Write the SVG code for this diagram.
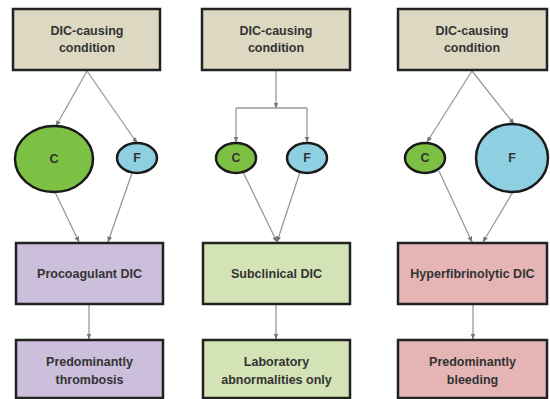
<svg xmlns="http://www.w3.org/2000/svg" width="550" height="399" viewBox="0 0 550 399">
  <defs>
    <marker id="arrow" viewBox="0 0 10 10" refX="9" refY="5" markerWidth="6" markerHeight="6" orient="auto-start-reverse" markerUnits="userSpaceOnUse">
      <path d="M0,1 L10,5 L0,9 z" fill="#777"/>
    </marker>
  </defs>
  <style>
    .box { stroke: #222; stroke-width: 2.5; }
    .cause { fill: #DDD8C2; }
    .pro { fill: #CBBFDB; }
    .sub { fill: #D4E3B5; }
    .hyp { fill: #E5B5B5; }
    .c { fill: #7CC143; stroke: #1a1a1a; stroke-width: 2.5; }
    .f { fill: #8ECFE2; stroke: #1a1a1a; stroke-width: 2.5; }
    .lbl { font-family: "Liberation Sans", Arial, sans-serif; font-weight: bold; font-size: 12.5px; fill: #333; text-anchor: middle; }
    .edge { fill: none; stroke: #999; stroke-width: 1.3; }
    .arr { marker-end: url(#arrow); }
  </style>
  <rect width="550" height="399" fill="#fff"/>

  <!-- connectors -->
  <g id="connectors">
    <!-- panel 1 -->
    <line class="edge arr" x1="87" y1="71" x2="56" y2="126"/>
    <line class="edge arr" x1="87" y1="71" x2="137" y2="143"/>
    <line class="edge arr" x1="55" y1="192" x2="79" y2="242"/>
    <line class="edge arr" x1="132" y1="173" x2="108" y2="242"/>
    <line class="edge arr" x1="89" y1="305" x2="89" y2="339"/>
    <!-- panel 2 -->
    <polyline class="edge arr" points="276,71 276,108"/>
    <polyline class="edge arr" points="236,108 236,142"/>
    <polyline class="edge arr" points="307,108 307,142"/>
    <line class="edge" x1="236" y1="108" x2="307" y2="108"/>
    <line class="edge arr" x1="243" y1="172" x2="277" y2="242"/>
    <line class="edge arr" x1="300" y1="172" x2="277" y2="242"/>
    <line class="edge arr" x1="276" y1="305" x2="276" y2="339"/>
    <!-- panel 3 -->
    <line class="edge arr" x1="472" y1="71" x2="427" y2="142"/>
    <line class="edge arr" x1="472" y1="71" x2="514" y2="124"/>
    <line class="edge arr" x1="439" y1="171" x2="472" y2="242"/>
    <line class="edge arr" x1="513" y1="192" x2="483" y2="242"/>
    <line class="edge arr" x1="473" y1="305" x2="473" y2="339"/>
  </g>

  <!-- panel 1: procoagulant -->
  <g id="cause1">
    <rect class="box cause" x="13" y="9" width="147" height="61"/>
    <text class="lbl" x="87" y="35">DIC-causing</text>
    <text class="lbl" x="87" y="52">condition</text>
  </g>
  <g id="c1">
    <ellipse class="c" cx="54" cy="159" rx="39" ry="33"/>
    <text class="lbl" x="54" y="163">C</text>
  </g>
  <g id="f1">
    <ellipse class="f" cx="137" cy="158" rx="20" ry="15"/>
    <text class="lbl" x="137" y="162">F</text>
  </g>
  <g id="type1">
    <rect class="box pro" x="16" y="243" width="147" height="61"/>
    <text class="lbl" x="89.5" y="278">Procoagulant DIC</text>
  </g>
  <g id="outcome1">
    <rect class="box pro" x="16" y="340" width="147" height="58"/>
    <text class="lbl" x="89.5" y="366">Predominantly</text>
    <text class="lbl" x="89.5" y="384">thrombosis</text>
  </g>

  <!-- panel 2: subclinical -->
  <g id="cause2">
    <rect class="box cause" x="202" y="9" width="148" height="61"/>
    <text class="lbl" x="276" y="35">DIC-causing</text>
    <text class="lbl" x="276" y="52">condition</text>
  </g>
  <g id="c2">
    <ellipse class="c" cx="236" cy="158" rx="20" ry="15"/>
    <text class="lbl" x="236" y="162">C</text>
  </g>
  <g id="f2">
    <ellipse class="f" cx="307" cy="158" rx="20" ry="15"/>
    <text class="lbl" x="307" y="162">F</text>
  </g>
  <g id="type2">
    <rect class="box sub" x="203" y="243" width="147" height="61"/>
    <text class="lbl" x="276.5" y="278">Subclinical DIC</text>
  </g>
  <g id="outcome2">
    <rect class="box sub" x="203" y="340" width="147" height="58"/>
    <text class="lbl" x="276.5" y="366">Laboratory</text>
    <text class="lbl" x="276.5" y="384">abnormalities only</text>
  </g>

  <!-- panel 3: hyperfibrinolytic -->
  <g id="cause3">
    <rect class="box cause" x="398" y="9" width="149" height="61"/>
    <text class="lbl" x="472" y="35">DIC-causing</text>
    <text class="lbl" x="472" y="52">condition</text>
  </g>
  <g id="c3">
    <ellipse class="c" cx="425" cy="158" rx="20" ry="15"/>
    <text class="lbl" x="425" y="162">C</text>
  </g>
  <g id="f3">
    <ellipse class="f" cx="512" cy="158" rx="36" ry="34"/>
    <text class="lbl" x="512" y="162">F</text>
  </g>
  <g id="type3">
    <rect class="box hyp" x="398" y="243" width="149" height="61"/>
    <text class="lbl" x="472.5" y="278">Hyperfibrinolytic DIC</text>
  </g>
  <g id="outcome3">
    <rect class="box hyp" x="398" y="340" width="149" height="58"/>
    <text class="lbl" x="472.5" y="366">Predominantly</text>
    <text class="lbl" x="472.5" y="384">bleeding</text>
  </g>
</svg>
